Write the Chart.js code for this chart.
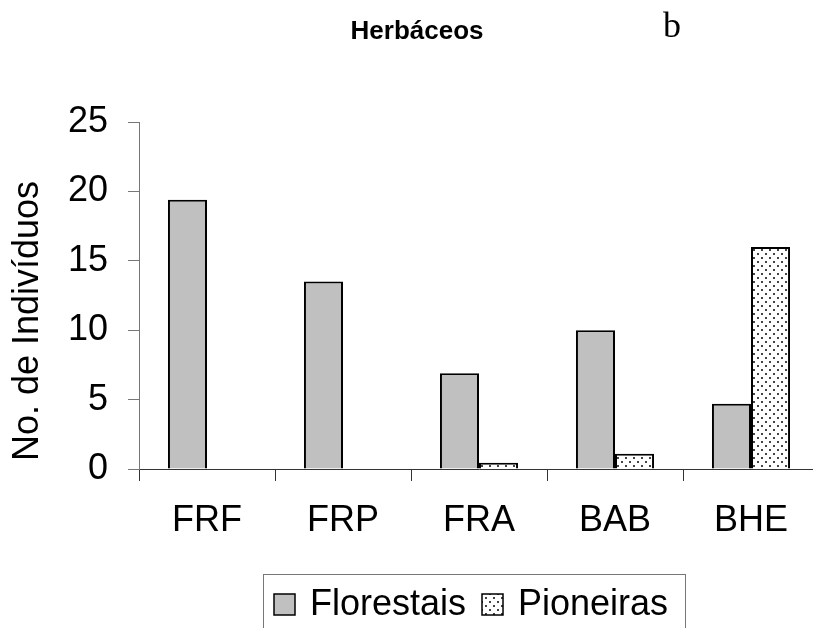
<!DOCTYPE html>
<html>
<head>
<meta charset="utf-8">
<script src="https://cdn.jsdelivr.net/npm/chart.js@4"></script>
<style>
  html, body { margin: 0; padding: 0; background: #fff; overflow: hidden; }
  canvas { display: block; }
</style>
</head>
<body>
<canvas id="myChart" width="830" height="628"></canvas>
<script>
// data
const categories = ["FRF", "FRP", "FRA", "BAB", "BHE"];
const florestais = [19.4, 13.5, 6.9, 10.0, 4.7];
const pioneiras = [null, null, 0.45, 1.1, 16.0];
const yTicks = [0, 5, 10, 15, 20, 25];

const font = "'Liberation Sans', Arial, sans-serif";

// dotted fill for Pioneiras
function makeDots(ctx) {
  const c = document.createElement("canvas");
  c.width = 8;
  c.height = 8;
  const p = c.getContext("2d");
  p.fillStyle = "#fff";
  p.fillRect(0, 0, 8, 8);
  p.fillStyle = "#444";
  p.fillRect(1, 1, 2, 2);
  p.fillRect(5, 5, 2, 2);
  return ctx.createPattern(c, "repeat");
}

const canvas = document.getElementById("myChart");
const ctx = canvas.getContext("2d");
const dots = makeDots(ctx);

// title, y-axis title and legend box
const extras = {
  id: "extras",
  afterDraw(chart) {
    const c = chart.ctx;
    c.save();
    c.fillStyle = "#000";
    c.textBaseline = "alphabetic";
    c.textAlign = "center";
    c.font = "bold 26px " + font;
    c.fillText("Herbáceos", 417, 39);
    c.font = "36px 'Liberation Serif', 'Times New Roman', serif";
    c.fillText("b", 672, 37);

    c.save();
    c.translate(38, 321);
    c.rotate(-Math.PI / 2);
    c.font = "36px " + font;
    c.fillText("No. de Indivíduos", 0, 0);
    c.restore();

    // legend
    c.strokeStyle = "#777";
    c.lineWidth = 1;
    c.strokeRect(263.5, 574.5, 422, 80);
    c.font = "36px " + font;
    c.textAlign = "left";
    c.lineWidth = 1.5;
    c.strokeStyle = "#000";
    c.fillStyle = "#c0c0c0";
    c.fillRect(274, 594, 21, 21);
    c.strokeRect(274, 594, 21, 21);
    c.fillStyle = "#000";
    c.fillText("Florestais", 310, 615);
    c.fillStyle = dots;
    c.fillRect(482, 594, 21, 21);
    c.strokeRect(482, 594, 21, 21);
    c.fillStyle = "#000";
    c.fillText("Pioneiras", 518, 615);
    c.restore();
  },
};

const myChart = new Chart(ctx, {
  type: "bar",
  data: {
    labels: categories,
    datasets: [
      {
        label: "Florestais",
        data: florestais,
        backgroundColor: "#c0c0c0",
        borderColor: "#000",
        borderWidth: 2,
      },
      {
        label: "Pioneiras",
        data: pioneiras,
        backgroundColor: dots,
        borderColor: "#000",
        borderWidth: 2,
      },
    ],
  },
  options: {
    responsive: false,
    animation: false,
    categoryPercentage: 0.574,
    barPercentage: 1,
    layout: { padding: { left: 0, top: 122, right: 11, bottom: 0 } },
    plugins: {
      legend: { display: false },
      title: { display: false },
      tooltip: { enabled: false },
    },
    scales: {
      x: {
        afterFit(scale) {
          scale.height = 159;
        },
        grid: {
          display: true,
          drawOnChartArea: false,
          tickLength: 12,
          color: "#333",
        },
        border: { color: "#333", width: 1 },
        ticks: {
          color: "#000",
          padding: 18,
          font: { family: font, size: 36 },
        },
      },
      y: {
        min: 0,
        max: 25,
        afterFit(scale) {
          scale.width = 139;
        },
        afterBuildTicks(scale) {
          scale.ticks = yTicks.map((v) => ({ value: v }));
        },
        grid: {
          display: true,
          drawOnChartArea: false,
          tickLength: 11,
          color: "#777",
        },
        border: { color: "#777", width: 1 },
        ticks: {
          color: "#000",
          padding: 20,
          font: { family: font, size: 36 },
        },
      },
    },
  },
  plugins: [extras],
});
</script>
</body>
</html>
